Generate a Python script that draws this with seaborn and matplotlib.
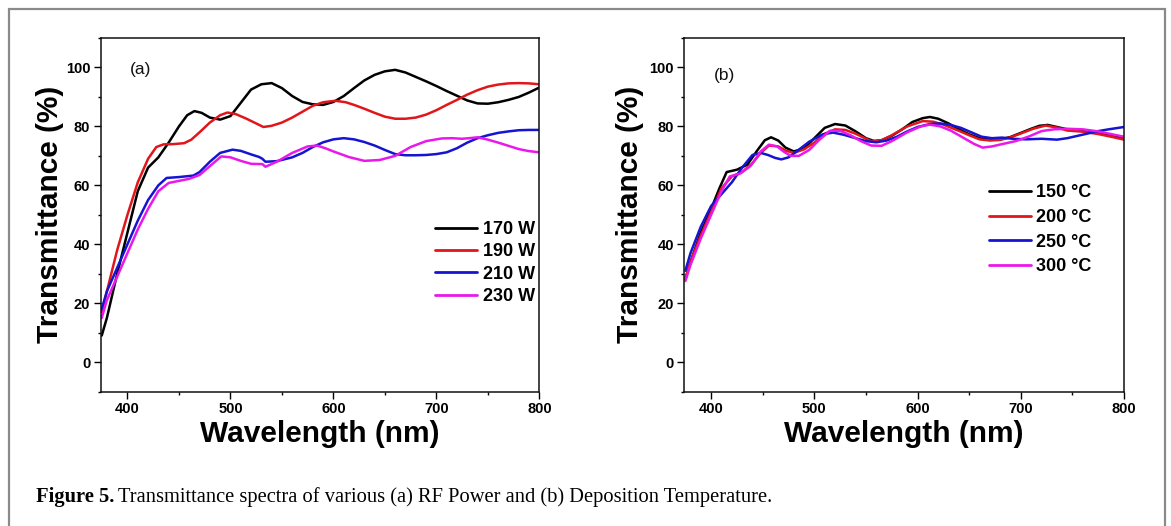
import numpy as np
import pandas as pd
import seaborn as sns
import matplotlib.pyplot as plt
from matplotlib.patches import Rectangle
from matplotlib.ticker import MultipleLocator

sns.set_theme(style="ticks")
plt.rcParams['font.family'] = ['Liberation Sans', 'DejaVu Sans']
plt.rcParams['text.color'] = 'black'
plt.rcParams['axes.labelcolor'] = 'black'
plt.rcParams['xtick.color'] = 'black'
plt.rcParams['ytick.color'] = 'black'

# (a) RF power series
wl_170 = [375, 380, 390, 400, 410, 420, 430, 440, 450, 458, 465, 472, 480, 490, 500, 510,
          520, 530, 540, 550, 560, 570, 580, 590, 600, 610, 620, 630, 640, 650, 660, 670,
          680, 690, 700, 710, 720, 730, 740, 750, 760, 770, 780, 790, 800]
t_170 = [9, 15, 30, 44, 58, 66, 69.5, 74.5, 80, 83.8, 85.2, 84.6, 83, 82.3, 83.5, 88,
         92.5, 94.3, 94.7, 93, 90.3, 88.3, 87.5, 87.3, 88.3, 90.3, 93, 95.6, 97.5, 98.7, 99.2, 98.3,
         96.8, 95.3, 93.7, 92, 90.4, 88.8, 87.8, 87.7, 88.2, 89, 90, 91.5, 93.2]

wl_190 = [375, 380, 390, 400, 410, 420, 428, 435, 445, 455, 462, 470, 480, 490, 497, 505,
          515, 525, 532, 540, 550, 560, 570, 580, 590, 602, 612, 620, 630, 640, 650, 660,
          670, 680, 690, 700, 710, 720, 730, 740, 750, 760, 770, 780, 790, 800]
t_190 = [17, 24, 38, 50, 61, 69, 73, 73.9, 74, 74.3, 75.5, 78, 81.3, 83.8, 84.7, 84.2,
         82.7, 81, 79.8, 80.2, 81.3, 83, 85, 87, 88.2, 88.7, 88.2, 87.3, 86, 84.6, 83.3, 82.6,
         82.6, 83, 84, 85.5, 87.3, 89, 90.8, 92.3, 93.5, 94.2, 94.6, 94.7, 94.6, 94.3]

wl_210 = [375, 380, 390, 400, 410, 420, 430, 438, 450, 464, 470, 480, 490, 502, 510, 520,
          528, 531, 534, 545, 560, 570, 580, 590, 600, 610, 620, 630, 640, 650, 660, 670,
          680, 690, 700, 710, 720, 730, 740, 750, 760, 770, 780, 790, 800]
t_210 = [18, 24, 32, 40, 48, 55, 60, 62.5, 62.8, 63.3, 64.5, 68, 71, 72.1, 71.7, 70.5,
         69.6, 69, 68, 68.2, 69.5, 71, 73, 74.6, 75.6, 76, 75.6, 74.7, 73.5, 72, 70.6, 70.2,
         70.2, 70.3, 70.6, 71.2, 72.6, 74.5, 76, 77, 77.8, 78.3, 78.7, 78.8, 78.8]

wl_230 = [375, 380, 390, 400, 410, 420, 430, 440, 450, 460, 470, 480, 491, 500, 510, 520,
          531, 534, 545, 560, 575, 584, 592, 600, 615, 630, 645, 660, 675, 690, 705, 715,
          725, 732, 740, 750, 760, 770, 780, 790, 800]
t_230 = [15, 21, 29, 37, 45, 52, 58, 60.8, 61.5, 62.2, 63.5, 66.5, 69.8, 69.5, 68.3, 67.3,
         67.2, 66.3, 68, 71, 73.2, 73.5, 72.6, 71.5, 69.6, 68.3, 68.6, 70, 73, 75, 75.9, 76,
         75.8, 76, 76.3, 75.5, 74.5, 73.4, 72.3, 71.6, 71.2]

# (b) deposition temperature series
wl_150 = [375, 380, 390, 400, 408, 415, 425, 435, 445, 452, 458, 465, 472, 480, 490, 500,
          510, 520, 530, 540, 550, 558, 565, 575, 585, 595, 605, 612, 620, 630, 640, 650,
          660, 670, 680, 690, 700, 710, 718, 726, 735, 745, 760, 775, 790, 800]
t_150 = [28, 34, 44, 52, 59, 64.5, 65.3, 67, 72, 75.3, 76.3, 75.2, 72.8, 71.5, 72.5, 76,
         79.5, 80.8, 80.3, 78.3, 76, 75, 75.3, 76.8, 79, 81.5, 82.8, 83.2, 82.6, 81, 79, 77.3,
         76, 75.5, 75.6, 76.4, 77.8, 79.2, 80.2, 80.5, 79.8, 79, 78.6, 77.8, 76.7, 76]

wl_200 = [375, 380, 390, 400, 410, 420, 430, 440, 448, 456, 465, 472, 480, 490, 500, 510,
          520, 530, 540, 555, 565, 575, 590, 605, 615, 625, 640, 650, 660, 670, 680, 690,
          700, 712, 724, 735, 745, 760, 775, 790, 800]
t_200 = [28.5, 34, 43, 51, 59, 63, 64.5, 67.5, 71, 73.5, 73.2, 71.8, 71, 72.2, 74.5, 77.5,
         79, 78.8, 77.5, 75, 75.3, 77, 80, 81.8, 81.6, 80.6, 78.5, 77, 75.6, 75.2, 75.4, 76.3,
         77.6, 79.2, 80.3, 79.6, 78.6, 78.2, 77.4, 76.3, 75.5]

wl_250 = [375, 380, 390, 400, 410, 420, 430, 440, 448, 455, 462, 468, 475, 482, 495, 508,
          518, 528, 540, 550, 560, 570, 580, 590, 600, 612, 622, 632, 642, 652, 662, 672,
          682, 692, 705, 720, 735, 745, 755, 765, 775, 785, 800]
t_250 = [31, 37, 46, 53, 57, 61, 66, 70.3, 71, 70.3, 69.3, 68.8, 69.5, 71.3, 74.8, 77.3,
         77.9, 77.2, 76, 75, 74.6, 75.2, 76.5, 78.3, 79.8, 80.8, 81, 80.5, 79.5, 78, 76.5, 76,
         76.2, 75.8, 75.6, 75.8, 75.5, 76, 76.8, 77.6, 78.4, 79, 79.8]

wl_300 = [375, 380, 390, 400, 410, 418, 428, 438, 448, 456, 464, 470, 477, 485, 495, 505,
          515, 525, 535, 545, 555, 565, 575, 590, 603, 612, 622, 632, 645, 655, 663, 672,
          682, 695, 708, 720, 732, 745, 760, 775, 790, 800]
t_300 = [27.5, 33, 42, 50, 58, 63, 64, 66.5, 71.5, 73.8, 73.2, 71.5, 70, 70, 72, 75.5,
         78.5, 78.5, 77, 75, 73.5, 73.4, 75, 78, 80, 80.6, 80, 78.6, 76, 74, 72.8, 73.2,
         74, 75, 76.6, 78.4, 79, 79.2, 79, 78.3, 77.2, 76.5]

labels_a = ["170 W", "190 W", "210 W", "230 W"]
labels_b = ["150 \u00b0C", "200 \u00b0C", "250 \u00b0C", "300 \u00b0C"]
colors = ["#000000", "#e0161b", "#1414d2", "#ea18ea"]


def to_frame(wls, vals, names):
    parts = []
    for w, v, n in zip(wls, vals, names):
        parts.append(pd.DataFrame({"wl": w, "T": v, "sample": n}))
    return pd.concat(parts, ignore_index=True)


df_a = to_frame([wl_170, wl_190, wl_210, wl_230], [t_170, t_190, t_210, t_230], labels_a)
df_b = to_frame([wl_150, wl_200, wl_250, wl_300], [t_150, t_200, t_250, t_300], labels_b)

fig = plt.figure(figsize=(11.71, 5.26), dpi=100)
ax_a = fig.add_axes([0.086, 0.2557, 0.3746, 0.672])
ax_b = fig.add_axes([0.5844, 0.2557, 0.3755, 0.672])


def style_panel(ax, df, names, tag, tagpos, legpos, ypad, lspace):
    sns.lineplot(data=df, x="wl", y="T", hue="sample", hue_order=names,
                 palette=colors, estimator=None, linewidth=1.8, ax=ax)
    ax.set_xlim(374, 800)
    ax.set_ylim(-10, 110)
    ax.xaxis.set_major_locator(MultipleLocator(100))
    ax.xaxis.set_minor_locator(MultipleLocator(50))
    ax.yaxis.set_major_locator(MultipleLocator(20))
    ax.yaxis.set_minor_locator(MultipleLocator(10))
    ax.tick_params(which="major", direction="out", length=5, width=1.0, pad=2.5,
                   labelsize=10.5, colors="black")
    ax.tick_params(which="minor", direction="out", length=2.5, width=1.0, colors="black")
    for lab in ax.get_xticklabels() + ax.get_yticklabels():
        lab.set_fontweight("bold")
    for sp in ax.spines.values():
        sp.set_visible(True)
        sp.set_linewidth(1.1)
        sp.set_color("#111111")
    ax.set_xlabel("Wavelength (nm)", fontsize=21.5, fontweight="bold", labelpad=3)
    ax.set_ylabel("Transmittance (%)", fontsize=21.5, fontweight="bold", labelpad=ypad)
    ax.text(tagpos[0], tagpos[1], tag, transform=ax.transAxes, fontsize=12.5,
            va="center", ha="left", color="#111111")
    leg = ax.legend(loc="center right", bbox_to_anchor=legpos, frameon=False,
                    fontsize=13, handlelength=2.35, handletextpad=0.3,
                    labelspacing=lspace, borderpad=0, borderaxespad=0)
    for t in leg.get_texts():
        t.set_fontweight("bold")
    for h in leg.get_lines():
        h.set_linewidth(2.0)


style_panel(ax_a, df_a, labels_a, "(a)", (0.067, 0.912), (0.99, 0.3635), 1, 0.3)
style_panel(ax_b, df_b, labels_b, "(b)", (0.0675, 0.895), (0.9265, 0.4577), 4, 0.42)

# outer frame and caption
fig.patches.append(Rectangle((9 / 1171, -0.05), (1165 - 9) / 1171, 1.05 - 9 / 526,
                             transform=fig.transFigure, fill=False,
                             edgecolor="#8a8a8a", linewidth=1.6))

cap_y = 1 - 497 / 526
t1 = fig.text(35.7 / 1171, cap_y, "Figure 5.", fontsize=14.8, fontweight="bold",
              family=["Liberation Serif", "DejaVu Serif"], va="center", ha="left")
fig.canvas.draw()
bb = t1.get_window_extent(fig.canvas.get_renderer())
fig.text((bb.x1 + 4) / 1171, cap_y,
         "Transmittance spectra of various (a) RF Power and (b) Deposition Temperature.",
         fontsize=14.8, family=["Liberation Serif", "DejaVu Serif"], va="center", ha="left")

fig.savefig("out.png", dpi=100)
